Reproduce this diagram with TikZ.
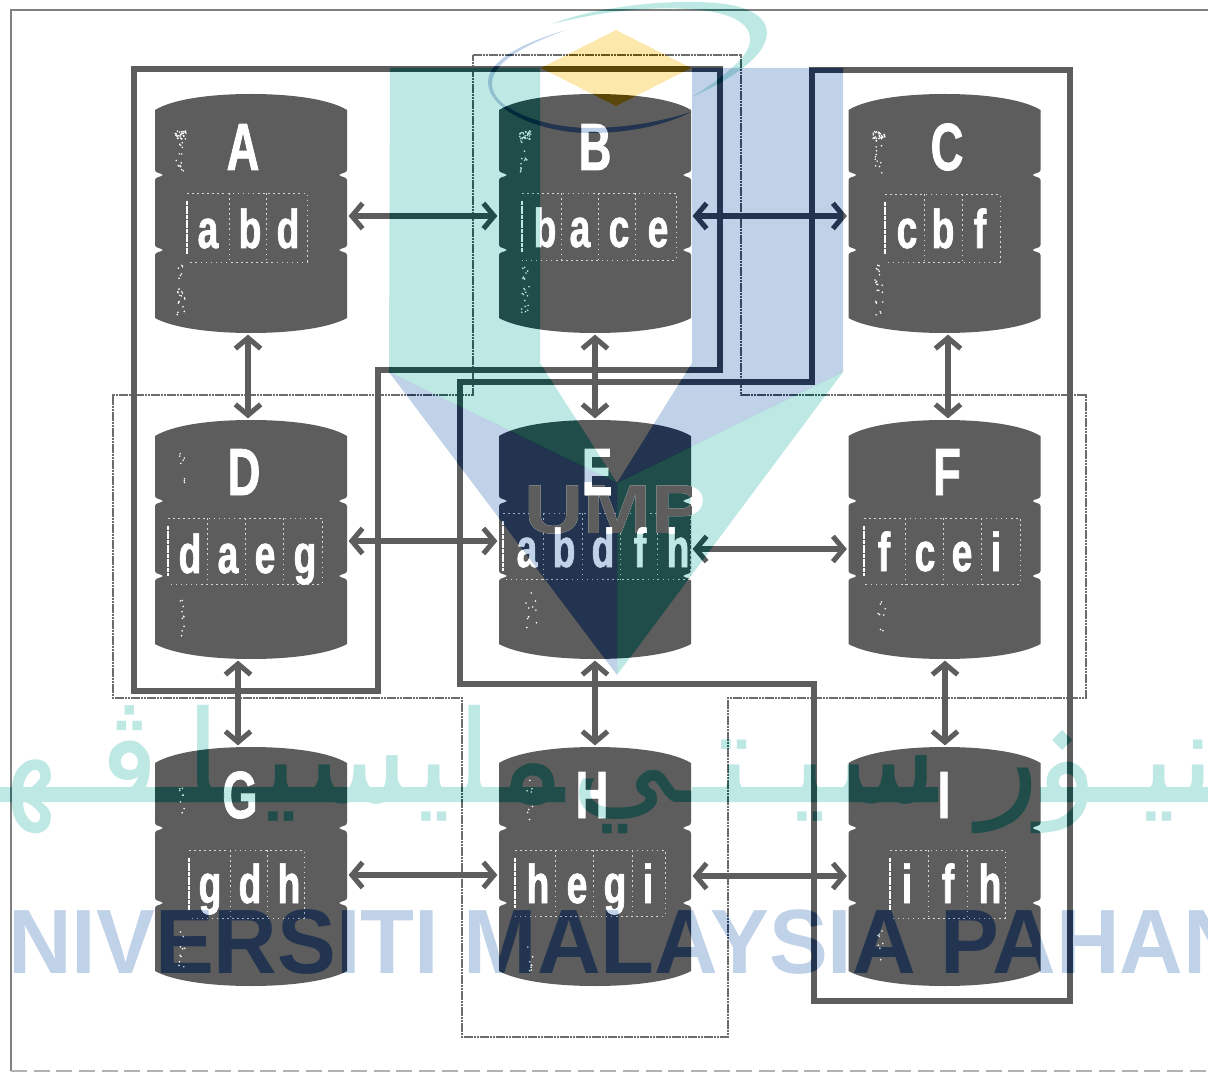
\documentclass[tikz,border=0pt]{standalone}
\usepackage{fontspec}
\setmainfont{Liberation Sans}
\newfontfamily\arabicfont[Script=Arabic]{DejaVu Sans}
\newfontfamily\labfont[FakeStretch=.68,FakeBold=1.2]{Liberation Sans Bold}
\TeXXeTstate=1
\usetikzlibrary{arrows.meta,calc}
\definecolor{dbgray}{HTML}{5D5D5D}
\definecolor{tealT}{HTML}{BEE8E4}
\definecolor{tealB}{HTML}{C2F2F0}
\definecolor{blueT}{HTML}{C0D2E8}
\definecolor{blueB}{HTML}{C5D8F5}
\definecolor{yelT}{HTML}{FBE8AA}
\definecolor{cellc}{HTML}{D8D8D8}
\newcommand\dbpath{(-96,16) .. controls (-78,5) and (-40,0) .. (0,0) .. controls (40,0) and (78,5) .. (96,16) -- (96,76) .. controls (96,79) and (90,79) .. (88,81) .. controls (90,83) and (96,83) .. (96,86) -- (96,151) .. controls (96,154) and (90,154) .. (88,156) .. controls (90,158) and (96,158) .. (96,161) -- (96,224) .. controls (78,234) and (40,239) .. (0,239) .. controls (-40,239) and (-78,234) .. (-96,224) -- (-96,161) .. controls (-96,158) and (-90,158) .. (-88,156) .. controls (-90,154) and (-96,154) .. (-96,151) -- (-96,86) .. controls (-96,83) and (-90,83) .. (-88,81) .. controls (-90,79) and (-96,79) .. (-96,76) -- cycle}
\tikzset{
  dbbody/.style={fill=dbgray,draw=none},
  dbbox/.style={rectangle,inner sep=0pt,minimum width=144pt,minimum height=179.25pt},
  bigletter/.style={text=white,font=\labfont\fontsize{50}{50}\selectfont,anchor=base,inner sep=0pt},
  smallletter/.style={text=white,font=\labfont\fontsize{41}{41}\selectfont,anchor=base,inner sep=0pt},
  cellrule/.style={draw=cellc,line width=.7pt,dash pattern=on 1.2pt off 2.6pt},
  cellbar/.style={draw=white,line width=1.8pt,dash pattern=on 3pt off .5pt},
  loopline/.style={draw=dbgray,line width=4pt,line join=miter},
  dashloop/.style={draw=dbgray!90,line width=2pt,dash pattern=on 2pt off .4pt},
  link/.style={draw=dbgray,line width=3.8pt,{Straight Barb[length=8pt,width=19pt,line width=3.8pt]}-{Straight Barb[length=8pt,width=19pt,line width=3.8pt]},shorten <=1pt,shorten >=1pt},
  frameline/.style={draw=gray,line width=1.1pt},
  wmtext/.style={font=\fontsize{68.5}{68.5}\selectfont\bfseries,inner sep=0pt,xscale=.965},
  umptext/.style={font=\fontsize{52}{52}\selectfont\bfseries,inner sep=0pt,anchor=base,xscale=1.18},
  artext/.style={font=\arabicfont\fontsize{96}{96}\selectfont,inner sep=0pt,anchor=base east}
}
\newcommand\db[6]{%
  \begin{scope}[shift={(#2,#3)}]\fill[dbbody] \dbpath;\end{scope}
  \node[dbbox] (#1) at (#2,#3+119.5) {};
  \node[bigletter] (#1big) at (#4,#5) {#1};
  #6
}
\newcommand\cells[8]{%
  \draw[cellrule] (#2,#4) -- (#3,#4) -- (#3,#5) -- (#2,#5);
  \draw[cellbar] (#2,#4+8) -- (#2,#5-8);
  \foreach \dx in {#6} {\draw[cellrule] (\dx,#4) -- (\dx,#5);}
  \foreach \lx/\ll [count=\ln] in {#7} {\node[smallletter] (#1s\ln) at (\lx,#8) {\ll};}
}
% scanner speckle: centre x, centre y, half width, half height, count
\newcommand\speck[5]{%
  \foreach \i in {1,...,#5} {\fill[white] ({#1+#3*rand},{#2+#4*rand}) circle (.9);}
}
\newcommand\wmall[2]{%
  \fill[#1] (390,68) -- (540,68) -- (540,363) -- (617,483) -- (389,372) -- cycle;
  \fill[#1] (843,372) -- (617,483) -- (617,675) -- cycle;
  \fill[#1] (552,24) .. controls (600,5) and (680,-2) .. (725,4) .. controls (760,9) and (772,25) .. (765,42) .. controls (758,62) and (725,82) .. (692,97) .. controls (722,78) and (748,58) .. (750,42) .. controls (752,25) and (735,14) .. (700,10) .. controls (650,5) and (600,12) .. (552,24) -- cycle;
  \fill[#1] (0,787) rectangle (565,802);
  \fill[#1] (692,787) rectangle (938,802);
  \fill[#1] (1040,787) rectangle (1208,802);
  \fill[#1] (1052,740) -- (1062,730) -- (1072,740) -- (1062,750) -- cycle;
  \node[artext,text=#1] (jawiA) at (1215,802) {\beginR نيـو\endR};
  \node[artext,text=#1] (jawiB) at (1040,802) {\beginR ر\endR};
  \node[artext,text=#1] (jawiC) at (938,802) {\beginR سيـتـي\endR};
  \node[artext,text=#1] (jawiD) at (565,802) {\beginR مليسيـا\endR};
  \node[artext,text=#1] (jawiE) at (160,802) {\beginR ڤـهـ\endR};
}
\newcommand\wmbl[2]{%
  \fill[#1] (692,68) -- (843,68) -- (843,372) -- (617,483) -- (692,363) -- cycle;
  \fill[#1] (389,372) -- (617,483) -- (617,675) -- cycle;
  \fill[#1] (566,30) .. controls (525,42) and (488,60) .. (488,82) .. controls (488,110) and (540,133) .. (590,133) .. controls (630,133) and (665,125) .. (691,112) .. controls (660,122) and (625,128) .. (590,128) .. controls (545,128) and (492,110) .. (492,84) .. controls (492,62) and (525,45) .. (566,30) -- cycle;
  \node[wmtext,text=#1,anchor=base west] (univ) at (8,973) {NIVERSITI MALAYSIA PAHAN};
  \fill[#2] (541,68) -- (616,30) -- (691,68) -- (616,106) -- cycle;
}
\begin{document}
\begin{tikzpicture}[x=.75pt,y=-.75pt]
\useasboundingbox (0,0) rectangle (1208,1073);
\clip (0,0) rectangle (1208,1073);
\fill[white] (0,0) rectangle (1208,1073);
\coordinate (f1) at (1208,10); \coordinate (f2) at (11,10); \coordinate (f3) at (11,1071); \coordinate (f4) at (1208,1071);
\draw[frameline] (f1) -- (f2) -- (f3);
\draw[draw=gray!60,line width=.8pt,dash pattern=on 12pt off 5pt] (f3) -- (f4);
\draw[dashloop] (473,55) -- (741,55) -- (741,395) -- (1086,395) -- (1086,698) -- (728,698) -- (728,1037) -- (462,1037) -- (462,698) -- (113,698) -- (113,395) -- (473,395) -- cycle;
\draw[loopline] (134,69) -- (720,69) -- (720,370) -- (378,370) -- (378,691) -- (134,691) -- cycle;
\draw[loopline] (812,70) -- (1070,70) -- (1070,1001) -- (814,1001) -- (814,684) -- (460,684) -- (460,382) -- (812,382) -- cycle;
\db{A}{251}{94}{243}{170}{\cells{A}{187}{307}{193}{262}{229,266}{208/a,250/b,288/d}{248}}
\db{B}{595}{94}{595}{170}{\cells{B}{522}{676}{193}{260}{561,598,635}{545/b,580/a,619/c,658/e}{247}}
\db{C}{944.5}{94}{947}{170}{\cells{C}{885}{1000}{194}{262}{924,962}{907/c,943/b,980/f}{248}}
\db{D}{251}{420}{244}{495}{\cells{D}{168}{322}{518}{584}{207,245,283}{190/d,228/a,265/e,305/g}{573}}
\db{E}{595}{420}{597}{495}{\cells{E}{503}{690}{513}{579}{543,582,620,657}{527/a,564/b,603/d,640/f,678/h}{567}}
\db{F}{944.5}{420}{947}{495}{\cells{F}{864}{1020}{518}{584}{905,943,981}{884/f,925/c,962/e,996/i}{571}}
\db{G}{251}{747}{240}{818}{\cells{G}{189}{304}{850}{918}{230,267}{210/g,250/d,289/h}{903}}
\db{H}{595}{747}{592}{818}{\cells{H}{515}{665}{850}{916}{555,593,632}{538/h,577/e,615/g,648/i}{903}}
\db{I}{944.5}{747}{944}{818}{\cells{I}{890}{1005}{850}{918}{928,967}{907/i,948/f,990/h}{903}}
\pgfmathsetseed{7}
\speck{181}{135}{6}{4}{28}\speck{180}{155}{4}{18}{14}\speck{181}{290}{4}{25}{22}
\speck{525}{135}{6}{4}{28}\speck{524}{155}{4}{18}{14}\speck{525}{290}{4}{25}{22}
\speck{879}{135}{6}{4}{28}\speck{878}{155}{4}{18}{14}\speck{879}{290}{4}{25}{22}
\speck{182}{470}{3}{18}{8}\speck{182}{620}{3}{20}{10}
\speck{532}{610}{6}{18}{10}\speck{882}{620}{4}{18}{8}
\speck{182}{800}{3}{20}{8}\speck{182}{950}{3}{20}{10}
\speck{530}{800}{3}{20}{8}\speck{530}{960}{3}{18}{8}
\speck{880}{950}{3}{20}{8}
\draw[link] (A.east |- 0,216) -- (B.west |- 0,216);
\draw[link] (B.east |- 0,216) -- (C.west |- 0,216);
\draw[link] (D.east |- 0,541) -- (E.west |- 0,541);
\draw[link] (E.east |- 0,549) -- (F.west |- 0,549);
\draw[link] (G.east |- 0,875) -- (H.west |- 0,875);
\draw[link] (H.east |- 0,876) -- (I.west |- 0,876);
\draw[link] (A.south -| 248,0) -- (D.north -| 248,0);
\draw[link] (B.south -| 595,0) -- (E.north -| 595,0);
\draw[link] (C.south -| 948,0) -- (F.north -| 948,0);
\draw[link] (D.south -| 238,0) -- (G.north -| 238,0);
\draw[link] (E.south -| 595,0) -- (H.north -| 595,0);
\draw[link] (F.south -| 945,0) -- (I.north -| 945,0);
\begin{scope}[blend mode=color burn]
  \begin{scope}[transparency group]\wmall{tealB}{blueB}\end{scope}
  \wmbl{blueB}{yelT}
\end{scope}
\begin{scope}[blend mode=multiply]
  \begin{scope}[transparency group]\wmall{tealT}{blueT}\end{scope}
  \wmbl{blueT}{yelT}
\end{scope}
\node[umptext,text=white] (umpw) at (615,533) {UMP};
\begin{scope}[shift={(595,420)}]
  \clip \dbpath;
  \node[umptext,text=dbgray] (umpg) at (20,113) {UMP};
\end{scope}
\begin{scope}
  \clip (499,483) rectangle (691,533);
  \node[bigletter] (Ebig2) at (597,495) {E};
  \foreach \lx/\ll [count=\ln] in {564/b,603/d,640/f,678/h} {\node[smallletter] (Etop\ln) at (\lx,567) {\ll};}
\end{scope}
\end{tikzpicture}
\end{document}
